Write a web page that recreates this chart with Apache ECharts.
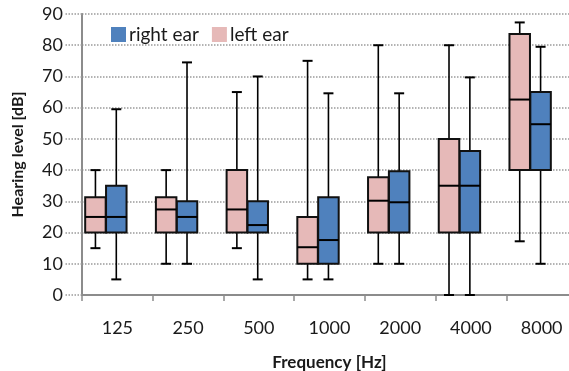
<!DOCTYPE html>
<html>
<head>
<meta charset="utf-8">
<script src="https://cdn.jsdelivr.net/npm/echarts@6/dist/echarts.min.js"></script>
<style>html,body{margin:0;padding:0;background:#fff;}#c{width:569px;height:371px;}</style>
</head>
<body>
<div id="c"></div>
<script>
const categories = ['125', '250', '500', '1000', '2000', '4000', '8000'];
const yTicks = [0, 10, 20, 30, 40, 50, 60, 70, 80, 90];
// [min, q1, median, q3, max]
const leftEar = [
  [15, 20, 25, 31.3, 40],
  [10, 20, 27.4, 31.3, 40],
  [15, 20, 27.4, 40, 65],
  [5, 10, 15.3, 25, 75],
  [10, 20, 30.2, 37.7, 80],
  [0, 20, 35, 50, 80],
  [17.2, 40, 62.6, 83.6, 87.3]
];
const rightEar = [
  [5, 20, 25, 35, 59.5],
  [10, 20, 25, 30, 74.5],
  [5, 20, 22.4, 30, 70],
  [5, 10, 17.6, 31.3, 64.6],
  [10, 20, 29.7, 39.6, 64.6],
  [0, 20, 35, 46.1, 69.7],
  [10, 40, 54.7, 65, 79.5]
];

const FONT = 'Lato';
const TXT = '#1a1a1a';

function makeRender(offsetFrac, fill) {
  return function (params, api) {
    const idx = api.value(0);
    const bw = api.size([1, 0])[0];
    const w = bw * 0.29;
    const cx = api.coord([idx, 0])[0] + offsetFrac * bw;
    const y = k => api.coord([idx, api.value(k)])[1];
    const yMin = y(1), yQ1 = y(2), yMed = y(3), yQ3 = y(4), yMax = y(5);
    const cap = 5;
    const st = { stroke: '#000', lineWidth: 1.6 };
    const stb = { stroke: '#000', lineWidth: 2 };
    return {
      type: 'group',
      children: [
        { type: 'line', shape: { x1: cx, y1: yQ3, x2: cx, y2: yMax }, style: st },
        { type: 'line', shape: { x1: cx - cap, y1: yMax, x2: cx + cap, y2: yMax }, style: stb },
        { type: 'line', shape: { x1: cx, y1: yQ1, x2: cx, y2: yMin }, style: st },
        { type: 'line', shape: { x1: cx - cap, y1: yMin, x2: cx + cap, y2: yMin }, style: stb },
        { type: 'rect', shape: { x: cx - w / 2, y: yQ3, width: w, height: yQ1 - yQ3 }, style: { fill: fill, stroke: '#111', lineWidth: 2 } },
        { type: 'line', shape: { x1: cx - w / 2, y1: yMed, x2: cx + w / 2, y2: yMed }, style: stb }
      ]
    };
  };
}

const PINK = '#E6B9B8';
const BLUE = '#4F81BD';

const chart = echarts.init(document.getElementById('c'), null, { renderer: 'canvas' });
chart.setOption({
  animation: false,
  grid: { left: 82, right: -8, top: 14, bottom: 76, containLabel: false, outerBoundsMode: 'none' },
  legend: {
    left: 111, top: 25, padding: 0,
    itemWidth: 15, itemHeight: 15, itemGap: 13,
    icon: 'rect',
    data: ['right ear', 'left ear'],
    textStyle: { fontFamily: FONT, fontSize: 19, color: TXT, padding: [0, 0, 0, -2] },
    itemStyle: { borderWidth: 0 }
  },
  xAxis: {
    type: 'category',
    data: categories,
    boundaryGap: true,
    name: 'Frequency [Hz]',
    nameLocation: 'middle',
    nameGap: 59,
    nameTextStyle: { fontFamily: FONT, fontSize: 17, fontWeight: 'bold', color: TXT },
    axisLine: { lineStyle: { color: '#8c8c8c', width: 2 } },
    axisTick: { show: true, length: 6, alignWithLabel: false, lineStyle: { color: '#8c8c8c', width: 1.5 } },
    axisLabel: { fontFamily: FONT, fontSize: 18, color: TXT, margin: 24 },
    splitLine: { show: false }
  },
  yAxis: {
    type: 'value',
    min: 0, max: 90, interval: 10,
    name: 'Hearing level [dB]',
    nameLocation: 'middle',
    nameGap: 56,
    nameTextStyle: { fontFamily: FONT, fontSize: 16, fontWeight: 'bold', color: TXT },
    axisLine: { show: true, lineStyle: { color: '#8c8c8c', width: 2 } },
    axisTick: { show: true, length: 17, lineStyle: { color: '#9a9a9a', type: 'dotted', width: 1.5 } },
    axisLabel: {
      fontFamily: FONT, fontSize: 18, color: TXT, margin: 19,
      formatter: v => (yTicks.indexOf(v) >= 0 ? String(v) : '')
    },
    splitLine: { show: true, lineStyle: { color: '#9a9a9a', type: 'dotted', width: 1.5 } }
  },
  series: [
    {
      name: 'right ear',
      type: 'custom',
      itemStyle: { color: BLUE },
      renderItem: makeRender(-0.015, BLUE),
      encode: { x: 0, y: [1, 2, 3, 4, 5] },
      data: rightEar.map((d, i) => [i].concat(d)),
      z: 3
    },
    {
      name: 'left ear',
      type: 'custom',
      itemStyle: { color: PINK },
      renderItem: makeRender(-0.31, PINK),
      encode: { x: 0, y: [1, 2, 3, 4, 5] },
      data: leftEar.map((d, i) => [i].concat(d)),
      z: 3
    }
  ]
});
</script>
</body>
</html>
